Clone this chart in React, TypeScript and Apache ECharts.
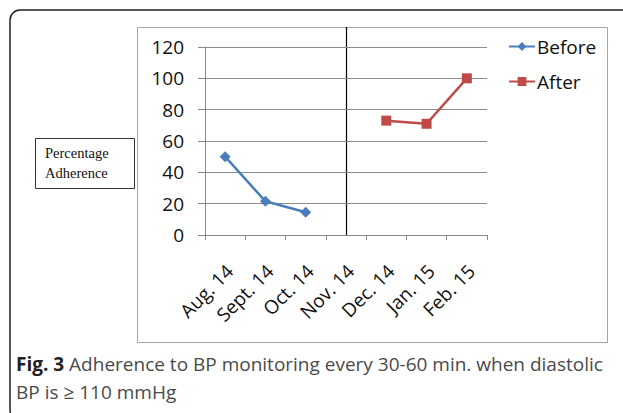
import React, { useEffect, useRef } from "react";
import * as echarts from "echarts";

const categories = ["Aug. 14", "Sept. 14", "Oct. 14", "Nov. 14", "Dec. 14", "Jan. 15", "Feb. 15"];
const beforeValues = [50, 21.5, 14.5, null, null, null, null];
const afterValues = [null, null, null, null, 73, 71, 100];
const dividerCategory = "Nov. 14";
const yMin = 0;
const yMax = 120;
const yStep = 20;
const yTitleLines = ["Percentage", "Adherence"];
const captionBold = "Fig. 3";
const captionLine1 = " Adherence to BP monitoring every 30-60 min. when diastolic";
const captionLine2 = "BP is \u2265 110 mmHg";

const SANS = "'Open Sans', sans-serif";
const SERIF = "'Liberation Serif', 'DejaVu Serif', serif";

function buildGraphics(divider?: { x: number; y: number }) {
  const els: any[] = [
    {
      type: "rect",
      shape: { x: 10, y: 10, width: 640, height: 410, r: 10 },
      style: { fill: "none", stroke: "#222", lineWidth: 1.5 },
      silent: true,
    },
    {
      type: "rect",
      shape: { x: 137.5, y: 27.5, width: 470, height: 315 },
      style: { fill: "none", stroke: "#a6a6a6", lineWidth: 1 },
      silent: true,
    },
    {
      type: "rect",
      shape: { x: 35.5, y: 138.5, width: 99, height: 50 },
      style: { fill: "#fff", stroke: "#333", lineWidth: 1 },
      silent: true,
    },
    {
      type: "text",
      x: 45,
      y: 153,
      style: { text: yTitleLines[0], font: `14.5px ${SERIF}`, fill: "#111", verticalAlign: "middle" },
    },
    {
      type: "text",
      x: 45,
      y: 173,
      style: { text: yTitleLines[1], font: `14.5px ${SERIF}`, fill: "#111", verticalAlign: "middle" },
    },
    {
      type: "text",
      x: 16,
      y: 364,
      style: {
        text: `{b|${captionBold}}{r|${captionLine1}}`,
        verticalAlign: "middle",
        rich: {
          b: { font: `bold 19px ${SANS}`, fill: "#222" },
          r: { font: `19px ${SANS}`, fill: "#4a4a4a" },
        },
      },
    },
    {
      type: "text",
      x: 16,
      y: 392,
      style: { text: captionLine2, font: `19px ${SANS}`, fill: "#4a4a4a", verticalAlign: "middle" },
    },
  ];
  if (divider) {
    els.push({
      type: "line",
      shape: { x1: divider.x, y1: 27, x2: divider.x, y2: divider.y },
      style: { stroke: "#000", lineWidth: 1.2 },
      silent: true,
    });
  }
  return els;
}

export default function App() {
  const ref = useRef<HTMLDivElement>(null);
  useEffect(() => {
    if (!ref.current) return;
    const chart = echarts.init(ref.current, undefined, { renderer: "svg" });
    chart.setOption({
      animation: false,
      backgroundColor: "#fff",
      grid: { left: 205, right: 136, top: 47, bottom: 178, containLabel: false },
      legend: {
        orient: "vertical",
        left: 503,
        top: 31,
        itemWidth: 26,
        itemHeight: 11,
        itemGap: 14,
        textStyle: { fontFamily: SANS, fontSize: 19, color: "#111", lineHeight: 21, padding: [0, 0, 0, -3] },
        data: ["Before", "After"],
      },
      xAxis: {
        type: "category",
        data: categories,
        boundaryGap: true,
        axisLine: { show: true, lineStyle: { color: "#888", width: 1 } },
        axisTick: { show: true, length: 5, lineStyle: { color: "#888" } },
        axisLabel: {
          rotate: 45,
          interval: 0,
          margin: 24,
          align: "right",
          verticalAlign: "top",
          padding: [0, 3, 0, 0],
          fontFamily: SANS,
          fontSize: 19,
          color: "#111",
        },
        splitLine: { show: false },
      },
      yAxis: {
        type: "value",
        min: yMin,
        max: yMax,
        interval: yStep,
        axisLine: { show: true, lineStyle: { color: "#888", width: 1 } },
        axisTick: { show: true, length: 7, lineStyle: { color: "#888" } },
        axisLabel: { margin: 21, fontFamily: SANS, fontSize: 19, color: "#111" },
        splitLine: { show: true, lineStyle: { color: "#8c8c8c", width: 1 } },
      },
      series: [
        {
          name: "Before",
          type: "line",
          data: beforeValues,
          connectNulls: false,
          symbol: "diamond",
          symbolSize: 11,
          lineStyle: { color: "#4a7ebb", width: 2.5 },
          itemStyle: { color: "#4a7ebb" },
        },
        {
          name: "After",
          type: "line",
          data: afterValues,
          connectNulls: false,
          symbol: "rect",
          symbolSize: 10,
          lineStyle: { color: "#be4b48", width: 2.5 },
          itemStyle: { color: "#be4b48" },
        },
      ],
      graphic: { elements: buildGraphics() },
    });
    const x = chart.convertToPixel({ xAxisIndex: 0 }, dividerCategory) as number;
    const y = chart.convertToPixel({ yAxisIndex: 0 }, yMin) as number;
    chart.setOption({ graphic: { elements: buildGraphics({ x: Math.round(x) + 0.5, y }) } });
    return () => chart.dispose();
  }, []);
  return (
    <div
      ref={ref}
      style={{ position: "fixed", left: 0, top: 0, width: 623, height: 413, background: "#fff" }}
    />
  );
}
